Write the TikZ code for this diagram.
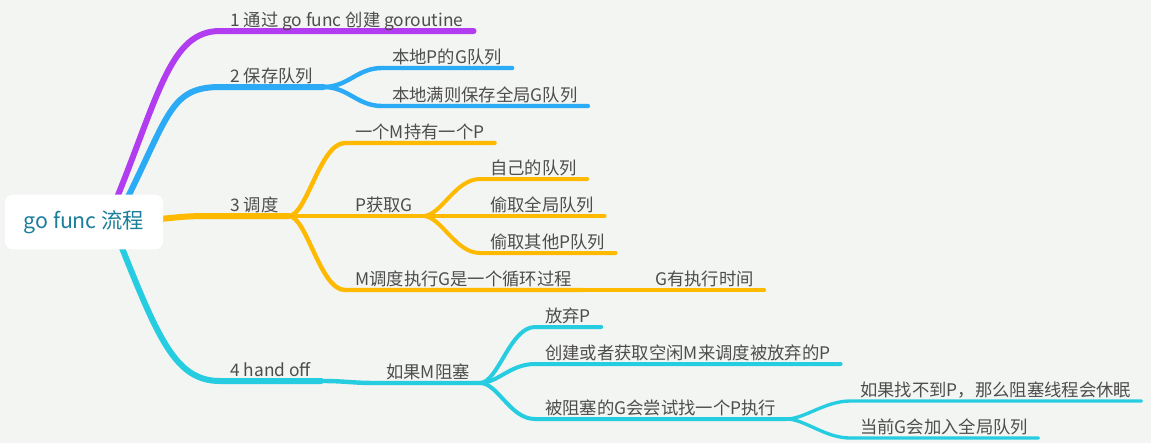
\documentclass[tikz,border=0pt]{standalone}
\usepackage{fontspec}
\setmainfont{Noto Sans CJK SC}
\usetikzlibrary{backgrounds}
\definecolor{MapBg}{HTML}{F3F5F2}
\definecolor{MapPurple}{HTML}{B13CF0}
\definecolor{MapBlue}{HTML}{2BAAF6}
\definecolor{MapYellow}{HTML}{FFBA00}
\definecolor{MapCyan}{HTML}{26CDE0}
\definecolor{MapRoot}{HTML}{1B7F9B}
\definecolor{MapText}{HTML}{4D4D4D}
\tikzset{
  topic/.style={anchor=south west, inner xsep=7.5pt, inner ysep=3pt, text depth=0pt,
    text=MapText, font=\fontsize{13}{15}\selectfont},
  branch/.style={line width=#1, line cap=round},
}
\begin{document}
\begin{tikzpicture}[x=0.75pt,y=-0.75pt]
\useasboundingbox (0,0) rectangle (1151,443);
\begin{scope}[on background layer]
\fill[MapBg] (0,0) rectangle (1151,443);
\end{scope}
% root
\node[fill=white, rounded corners=6pt, minimum width=118.5pt, minimum height=41pt,
  text=MapRoot, font=\fontsize{16}{19}\selectfont] (root) at (84,222) {go func 流程};
% level 1
\node[topic] (t1) at (220,31) {1 通过 go func 创建 goroutine};
\node[topic] (t2) at (220,87) {2 保存队列};
\node[topic] (t3) at (220,216) {3 调度};
\node[topic] (t4) at (220,381) {4 hand off};
% level 2
\node[topic] (t21) at (382,68) {本地P的G队列};
\node[topic] (t22) at (382,106) {本地满则保存全局G队列};
\node[topic] (t31) at (345,143) {一个M持有一个P};
\node[topic] (t32) at (345,216) {P获取G};
\node[topic] (t33) at (345,290) {M调度执行G是一个循环过程};
\node[topic] (t41) at (376,383) {如果M阻塞};
% level 3
\node[topic] (t321) at (480,179) {自己的队列};
\node[topic] (t322) at (480,216) {偷取全局队列};
\node[topic] (t323) at (480,253) {偷取其他P队列};
\node[topic] (t331) at (645,290) {G有执行时间};
\node[topic] (t411) at (535,327) {放弃P};
\node[topic] (t412) at (535,364) {创建或者获取空闲M来调度被放弃的P};
\node[topic] (t413) at (535,419) {被阻塞的G会尝试找一个P执行};
% level 4
\node[topic] (t4131) at (850,401) {如果找不到P，那么阻塞线程会休眠};
\node[topic] (t4132) at (850,438) {当前G会加入全局队列};
\begin{scope}[on background layer]
\coordinate (s1) at (114,205);
\coordinate (s2) at (124,205);
\coordinate (s3) at (160,219);
\coordinate (s4) at (118,238);
% purple
\draw[branch=4.5pt, MapPurple] (s1) .. controls +(45,-110) and +(-50,0) .. (t1.south west) -- (t1.south east);
% blue
\draw[branch=4.5pt, MapBlue] (s2) .. controls +(45,-90) and +(-50,0) .. (t2.south west) -- (t2.south east);
\draw[branch=3.3pt, MapBlue] (t2.south east) .. controls +(25,0) and +(-25,0) .. (t21.south west) -- (t21.south east);
\draw[branch=3.3pt, MapBlue] (t2.south east) .. controls +(25,0) and +(-25,0) .. (t22.south west) -- (t22.south east);
% yellow
\draw[branch=4.5pt, MapYellow] (s3) .. controls +(30,-3) and +(-30,0) .. (t3.south west) -- (t3.south east);
\foreach \n in {t31,t32,t33}
  \draw[branch=3.3pt, MapYellow] (t3.south east) .. controls +(18,0) and +(-25,0) .. (\n.south west) -- (\n.south east);
\foreach \n in {t321,t322,t323}
  \draw[branch=3pt, MapYellow] (t32.south east) .. controls +(18,0) and +(-25,0) .. (\n.south west) -- (\n.south east);
\draw[branch=3pt, MapYellow] (t33.south east) -- (t331.south west) -- (t331.south east);
% cyan
\draw[branch=4.5pt, MapCyan] (s4) .. controls +(40,100) and +(-45,0) .. (t4.south west) -- (t4.south east);
\draw[branch=3.3pt, MapCyan] (t4.south east) .. controls +(25,0) and +(-25,0) .. (t41.south west) -- (t41.south east);
\foreach \n in {t411,t412,t413}
  \draw[branch=3pt, MapCyan] (t41.south east) .. controls +(18,0) and +(-25,0) .. (\n.south west) -- (\n.south east);
\foreach \n in {t4131,t4132}
  \draw[branch=2.5pt, MapCyan] (t413.south east) .. controls +(18,0) and +(-25,0) .. (\n.south west) -- (\n.south east);
\end{scope}
\end{tikzpicture}
\end{document}
